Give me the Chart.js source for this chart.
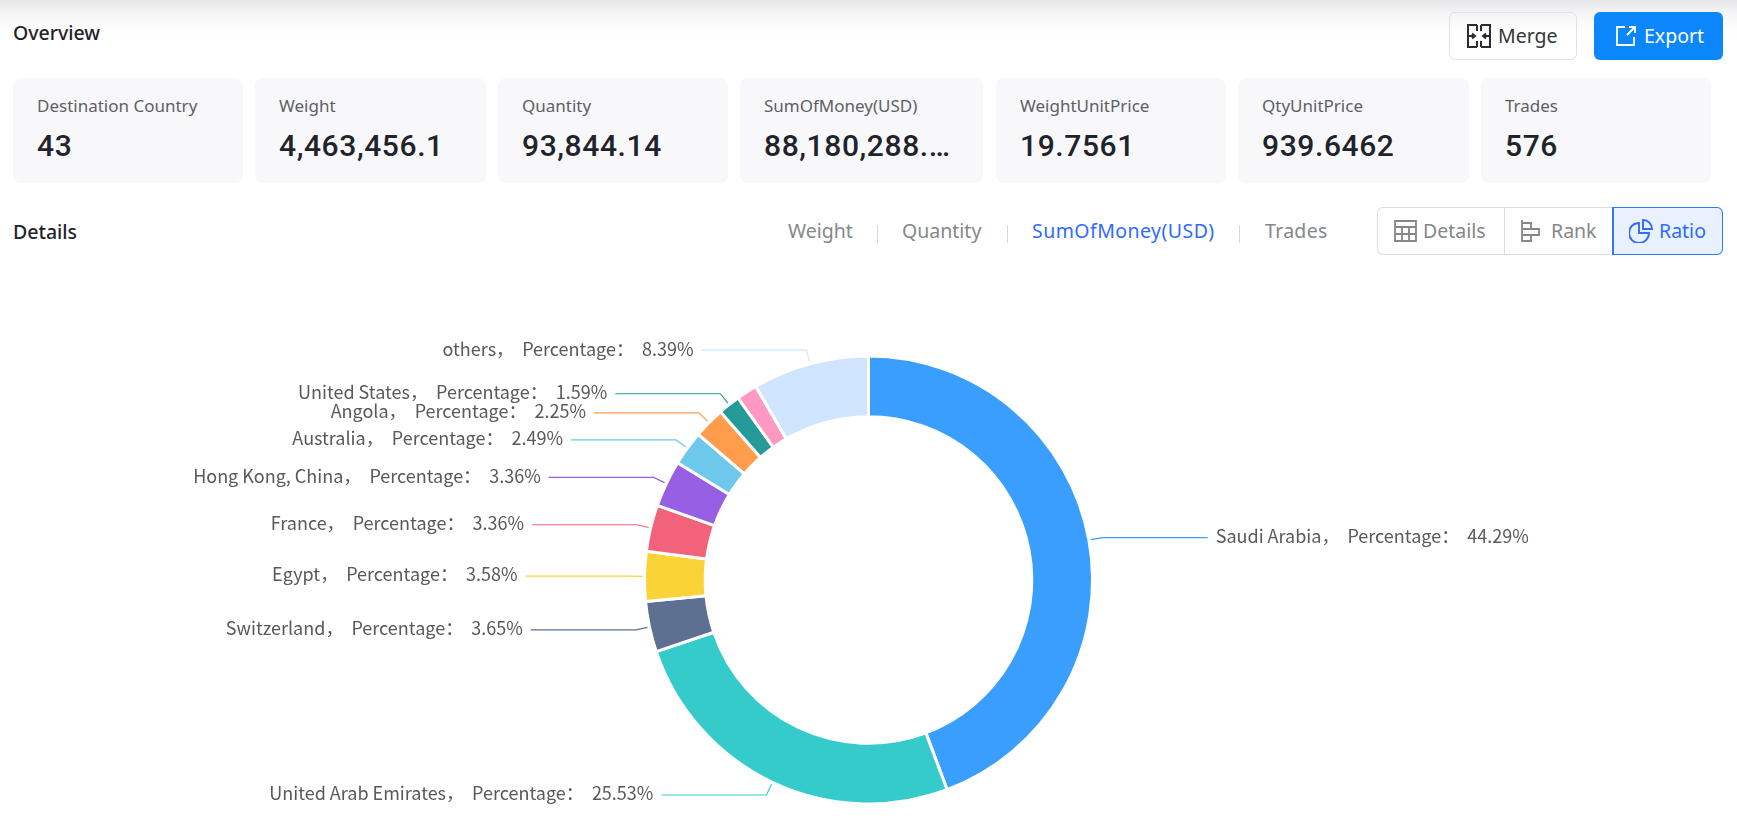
<!DOCTYPE html>
<html><head><meta charset="utf-8">
<script src="https://cdn.jsdelivr.net/npm/chart.js@4"></script>
<style>
html,body{margin:0;padding:0;background:#fff;width:1737px;height:818px;overflow:hidden;font-family:"Noto Sans",Roboto,sans-serif}
.abs{position:absolute;white-space:nowrap}
.top{position:absolute;left:0;top:0;width:1737px;height:36px;background:linear-gradient(#e6e7ea,#f6f6f7 40%,#fff)}
.h{font-size:19.5px;font-weight:500;color:#1f2329;line-height:24px}
.card{position:absolute;top:78px;height:105px;background:#f8f8fa;border-radius:8px}
.card .l{position:absolute;left:24px;top:17px;font-size:17px;color:#5c5f66;line-height:22px;white-space:nowrap}
.card .v{position:absolute;left:24px;top:49px;font-family:Roboto,sans-serif;font-size:30px;font-weight:500;color:#20242a;line-height:38px;letter-spacing:.6px;white-space:nowrap}
.btn{position:absolute;top:12px;height:46px;border-radius:6px;font-size:19.5px;line-height:46px}
.tab{position:absolute;top:218px;font-size:19.5px;line-height:26px;color:#85878a;white-space:nowrap}
.sep{position:absolute;top:225px;width:1px;height:18px;background:#d9d9d9}
.seg{position:absolute;top:207px;height:46px;font-size:19.5px;line-height:46px;color:#85878a}
canvas{position:absolute;left:0;top:322px}
svg{position:absolute}
</style></head><body>
<div class="top"></div>
<div class="abs h" style="left:13px;top:21px">Overview</div>
<div class="btn" style="left:1449px;width:126px;border:1px solid #dfe1e5;color:#33363b">
 <svg style="left:17px;top:11px" width="24" height="24" viewBox="0 0 24 24" fill="none" stroke="#2a2d31" stroke-width="2"><path d="M10 1H1v22h9M14 1h9v22h-9M10 1v6M14 1v6M10 17v6M14 17v6M1 12h7M23 12h-7M5 9.500l3 2.500-3 2.500M19 9.500l-3 2.500 3 2.500"/></svg>
 <span class="abs" style="left:48px;top:0">Merge</span></div>
<div class="btn" style="left:1594px;width:129px;height:48px;background:#0b87fb;color:#fff">
 <svg style="left:21px;top:13px" width="22" height="22" viewBox="0 0 22 22" fill="none" stroke="#fff" stroke-width="1.8"><path d="M10 2H2v18h17v-8M12 10l8-8M14 2h6v6"/></svg>
 <span class="abs" style="left:50px;top:1px">Export</span></div>
<div class="card" style="left:13px;width:230px"><div class="l">Destination Country</div><div class="v">43</div></div>
<div class="card" style="left:255px;width:231px"><div class="l">Weight</div><div class="v">4,463,456.1</div></div>
<div class="card" style="left:498px;width:230px"><div class="l">Quantity</div><div class="v">93,844.14</div></div>
<div class="card" style="left:740px;width:243px"><div class="l">SumOfMoney(USD)</div><div class="v">88,180,288.…</div></div>
<div class="card" style="left:996px;width:230px"><div class="l">WeightUnitPrice</div><div class="v">19.7561</div></div>
<div class="card" style="left:1238px;width:231px"><div class="l">QtyUnitPrice</div><div class="v">939.6462</div></div>
<div class="card" style="left:1481px;width:230px"><div class="l">Trades</div><div class="v">576</div></div>
<div class="abs h" style="left:13px;top:220px">Details</div>
<div class="tab" style="left:788px">Weight</div><div class="sep" style="left:877px"></div>
<div class="tab" style="left:902px">Quantity</div><div class="sep" style="left:1007px"></div>
<div class="tab" style="left:1032px;color:#2f6bff;letter-spacing:.45px">SumOfMoney(USD)</div><div class="sep" style="left:1239px"></div>
<div class="tab" style="left:1265px;letter-spacing:.3px">Trades</div>
<div class="seg" style="left:1377px;width:127px;border:1px solid #dcdee2;border-radius:6px 0 0 6px;border-right:none">
 <svg style="left:16px;top:12px" width="23" height="22" viewBox="0 0 23 22" fill="none" stroke="#85878a" stroke-width="1.8"><path d="M1 1h21v20H1zM1 7h21M1 14h21M8 7v14M15 7v14"/></svg>
 <span class="abs" style="left:45px;top:0">Details</span></div>
<div class="seg" style="left:1504px;width:108px;border:1px solid #dcdee2;border-right:none">
 <svg style="left:15px;top:12px" width="22" height="22" viewBox="0 0 22 22" fill="none" stroke="#85878a" stroke-width="1.8"><path d="M2 0v22M2 3h9v6H2M2 9h17v6H2M2 15h9v6H2"/></svg>
 <span class="abs" style="left:46px;top:0">Rank</span></div>
<div class="seg" style="left:1612px;width:108px;border:1px solid #2b7bf6;border-left-width:2px;border-radius:0 6px 6px 0;background:#e9f1fe;color:#2f6bff">
 <svg style="left:15px;top:11px" width="24" height="24" viewBox="0 0 24 24" fill="none" stroke="#2f6bff" stroke-width="1.9"><path d="M10 4a10 10 0 1 0 10 10H10zM14 1a9 9 0 0 1 9 9h-9z"/></svg>
 <span class="abs" style="left:45px;top:0">Ratio</span></div>
<canvas id="c" width="1737" height="516"></canvas>
<script>
const categories=["Saudi Arabia","United Arab Emirates","Switzerland","Egypt","France","Hong Kong, China","Australia","Angola","United States","","others"];
const shares=[44.29,25.53,3.65,3.58,3.36,3.36,2.49,2.25,1.59,1.51,8.39];
const sliceColors=["#3a9eff","#36cbcb","#5d7092","#fad337","#f2637b","#975fe4","#6dc8ec","#ff9d4d","#269a99","#ff99c3","#cfe4fd"];
const seriesWord="Percentage";

const leaderLabels={id:"leaderLabels",afterDatasetsDraw(chart){
  const g=chart.ctx,arcs=chart.getDatasetMeta(0).data;
  g.save();
  g.font='18px "Noto Sans CJK SC","Noto Sans",sans-serif';
  g.textBaseline="middle";
  arcs.forEach((a,i)=>{
    if(!categories[i])return;
    const p=a.getProps(["x","y","startAngle","endAngle","outerRadius"],true);
    const m=(p.startAngle+p.endAngle)/2,cos=Math.cos(m),sin=Math.sin(m);
    const r0=p.outerRadius+2,r1=p.outerRadius+14;
    const x1=p.x+cos*r1,y1=p.y+sin*r1,right=cos>=0;
    const x2=x1+(right?105:-105);
    g.beginPath();g.moveTo(p.x+cos*r0,p.y+sin*r0);g.lineTo(x1,y1);g.lineTo(x2,y1);
    g.strokeStyle=sliceColors[i];g.lineWidth=1.2;g.stroke();
    g.fillStyle="#595959";g.textAlign=right?"left":"right";
    g.fillText(categories[i]+"，  "+seriesWord+"：  "+shares[i].toFixed(2)+"%",x2+(right?8:-8),y1-1.5);
  });
  g.restore();
}};

new Chart(document.getElementById("c"),{
  type:"doughnut",
  data:{labels:categories,datasets:[{data:shares,backgroundColor:sliceColors,borderColor:"#fff",borderWidth:3}]},
  options:{responsive:false,animation:false,events:[],devicePixelRatio:1,radius:224,cutout:"72.9%",
    layout:{padding:0},plugins:{legend:{display:false},tooltip:{enabled:false}}},
  plugins:[leaderLabels]
});
</script>
</body></html>
